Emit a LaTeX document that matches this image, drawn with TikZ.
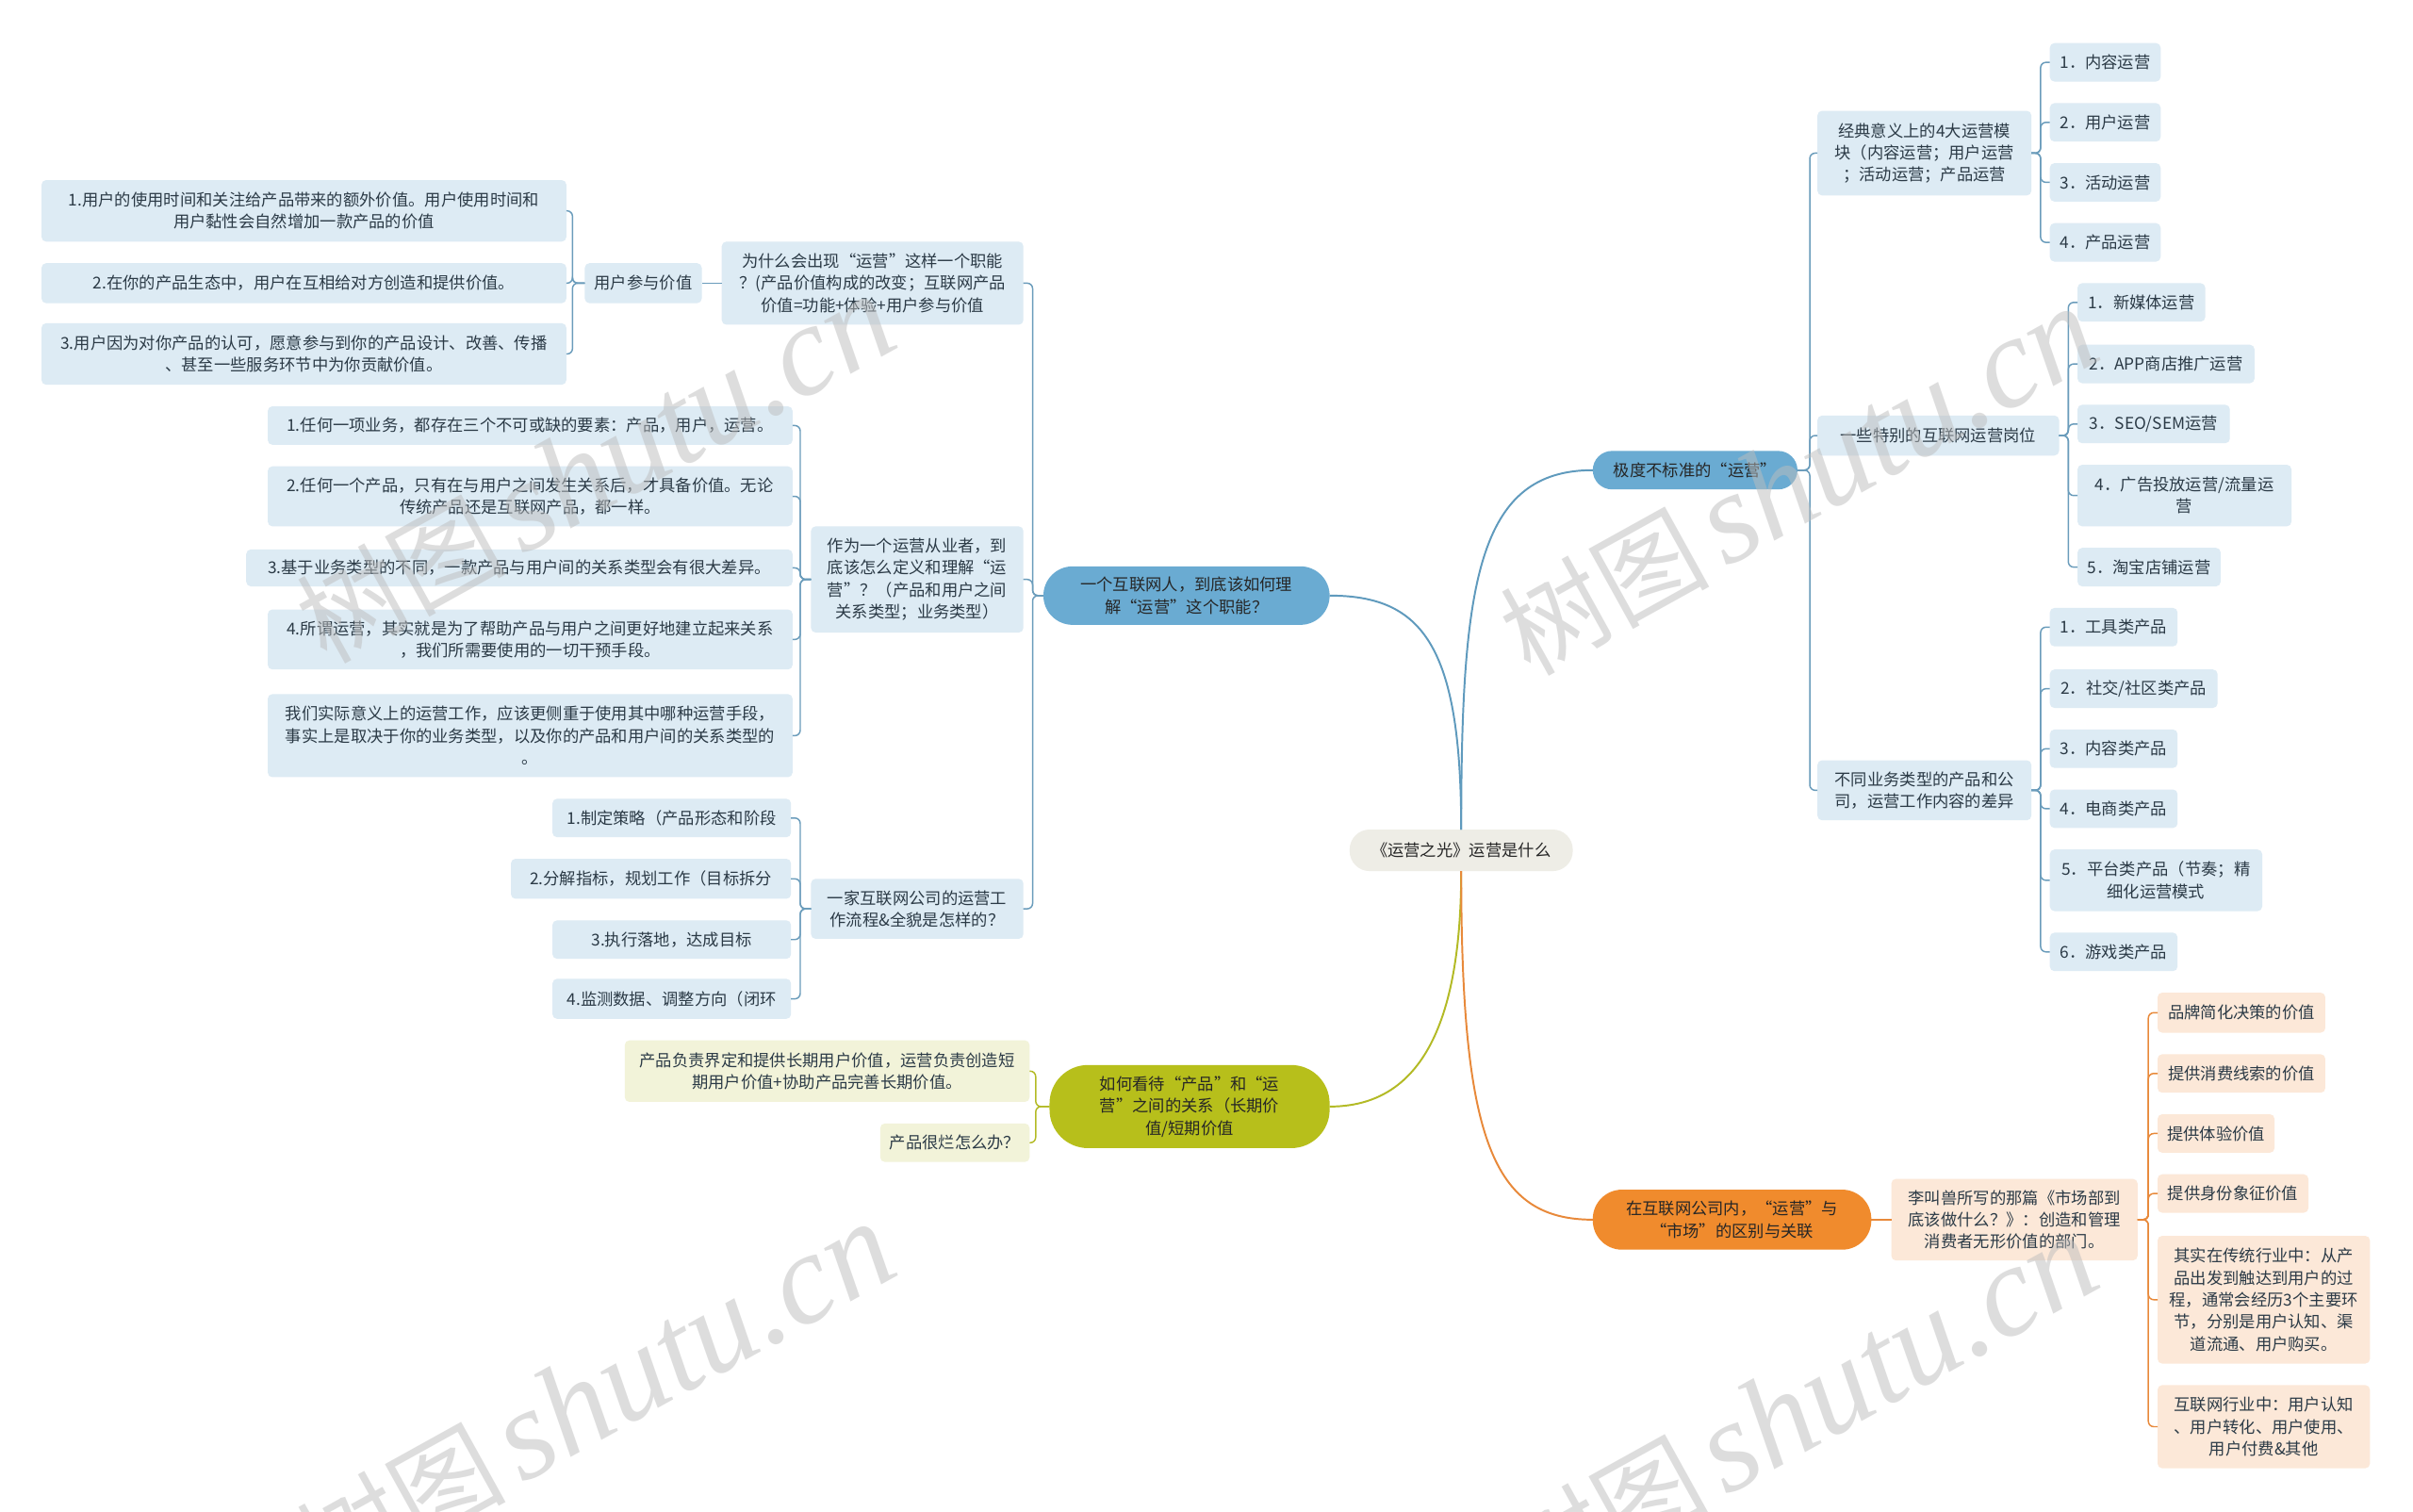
\documentclass[tikz,border=0pt]{standalone}
\usepackage{fontspec}
\newfontfamily\cjk{Noto Sans CJK SC}
\newfontfamily\wmlat{Liberation Serif}
\definecolor{mblue}{HTML}{6AABD2}
\definecolor{lblue}{HTML}{DDEBF4}
\definecolor{lineb}{HTML}{6A9CBB}
\definecolor{mgreen}{HTML}{B7BF1B}
\definecolor{lgreen}{HTML}{F2F3D9}
\definecolor{lineg}{HTML}{B3BA25}
\definecolor{morange}{HTML}{F08B2D}
\definecolor{lorange}{HTML}{FCE8D8}
\definecolor{lineo}{HTML}{E8893A}
\definecolor{rootc}{HTML}{EEEDE6}
\definecolor{txt}{HTML}{2B3A46}
\definecolor{wmgray}{HTML}{BDBDBD}
\tikzset{
  base/.style={inner sep=0pt, outer sep=0pt, align=center, font=\cjk\fontsize{10.6}{14.3}\selectfont, text=txt},
  lb/.style={base, fill=lblue, rounded corners=3pt},
  lg/.style={base, fill=lgreen, rounded corners=3pt},
  lo/.style={base, fill=lorange, rounded corners=3pt},
  rootst/.style={base, fill=rootc, rounded corners=13pt, text=black!85},
  pillb/.style={base, fill=mblue, text=black!85},
  pillg/.style={base, fill=mgreen, text=black!85},
  pillo/.style={base, fill=morange, text=black!85},
  cb/.style={draw=lineb, line width=0.9pt, rounded corners=3.5pt},
  cg/.style={draw=lineg, line width=0.9pt, rounded corners=3.5pt},
  co/.style={draw=lineo, line width=0.9pt, rounded corners=3.5pt},
  mainb/.style={draw=mblue!90!black, line width=1.2pt},
  maing/.style={draw=lineg, line width=1.2pt},
  maino/.style={draw=lineo, line width=1.2pt},
  wm/.style={text=wmgray, opacity=0.5, rotate=29, anchor=base west, inner sep=0pt}
}
\newcommand{\mmbox}[7]{\node[#6, minimum width={(#4-#2)*1pt}, minimum height={(#5-#3)*1pt}] (#1) at ({(#2+#4)/2},{(#3+#5)/2}) {#7};}
\newcommand{\wmtext}{{\cjk\fontsize{68}{68}\selectfont 树图}\hspace{10pt}{\wmlat\itshape\fontsize{84}{84}\selectfont shutu.cn}}
\begin{document}
\begin{tikzpicture}[x=1pt,y=-1pt]
\useasboundingbox[fill=white] (0,0) rectangle (1568,982);
% root and main branches
\mmbox{root}{877}{539}{1022}{566}{rootst}{《运营之光》运营是什么}
\mmbox{m1}{678}{368}{864}{406}{pillb,rounded corners=19pt}{一个互联网人，到底该如何理\\解“运营”这个职能？}
\mmbox{m2}{1035}{293}{1168}{318}{pillb,rounded corners=12.5pt}{极度不标准的“运营”}
\mmbox{m3}{682}{692}{864}{746}{pillg,rounded corners=25pt}{如何看待“产品”和“运\\营”之间的关系（长期价\\值/短期价值}
\mmbox{m4}{1035}{773}{1216}{812}{pillo,rounded corners=19pt}{在互联网公司内，“运营”与\\“市场”的区别与关联}
% branch 1
\mmbox{A}{469}{157}{665}{211}{lb}{为什么会出现“运营”这样一个职能\\？(产品价值构成的改变；互联网产品\\价值=功能+体验+用户参与价值}
\mmbox{P}{380}{171}{456}{197}{lb}{用户参与价值}
\mmbox{a1}{27}{117}{368}{157}{lb}{1.用户的使用时间和关注给产品带来的额外价值。用户使用时间和\\用户黏性会自然增加一款产品的价值}
\mmbox{a2}{27}{171}{368}{197}{lb}{2.在你的产品生态中，用户在互相给对方创造和提供价值。}
\mmbox{a3}{27}{210}{368}{250}{lb}{3.用户因为对你产品的认可，愿意参与到你的产品设计、改善、传播\\、甚至一些服务环节中为你贡献价值。}
\mmbox{B}{527}{342}{665}{411}{lb}{作为一个运营从业者，到\\底该怎么定义和理解“运\\营”？（产品和用户之间\\关系类型；业务类型）}
\mmbox{b1}{174}{264}{515}{289}{lb}{1.任何一项业务，都存在三个不可或缺的要素：产品，用户，运营。}
\mmbox{b2}{174}{303}{515}{342}{lb}{2.任何一个产品，只有在与用户之间发生关系后，才具备价值。无论\\传统产品还是互联网产品，都一样。}
\mmbox{b3}{160}{357}{515}{381}{lb}{3.基于业务类型的不同，一款产品与用户间的关系类型会有很大差异。}
\mmbox{b4}{174}{396}{515}{435}{lb}{4.所谓运营，其实就是为了帮助产品与用户之间更好地建立起来关系\\，我们所需要使用的一切干预手段。}
\mmbox{b5}{174}{451}{515}{505}{lb}{我们实际意义上的运营工作，应该更侧重于使用其中哪种运营手段，\\事实上是取决于你的业务类型，以及你的产品和用户间的关系类型的\\。}
\mmbox{C}{527}{571}{665}{610}{lb}{一家互联网公司的运营工\\作流程\&全貌是怎样的？}
\mmbox{c1}{359}{519}{514}{544}{lb}{1.制定策略（产品形态和阶段}
\mmbox{c2}{332}{558}{514}{584}{lb}{2.分解指标，规划工作（目标拆分}
\mmbox{c3}{359}{598}{514}{623}{lb}{3.执行落地，达成目标}
\mmbox{c4}{359}{636}{514}{662}{lb}{4.监测数据、调整方向（闭环}
% branch 3
\mmbox{h1}{406}{676}{669}{716}{lg}{产品负责界定和提供长期用户价值，运营负责创造短\\期用户价值+协助产品完善长期价值。}
\mmbox{h2}{572}{730}{669}{755}{lg}{产品很烂怎么办？}
% branch 2
\mmbox{D}{1181}{72}{1320}{127}{lb}{经典意义上的4大运营模\\块（内容运营；用户运营\\；活动运营；产品运营}
\mmbox{d1}{1332}{28}{1404}{53}{lb}{1．内容运营}
\mmbox{d2}{1332}{67}{1404}{92}{lb}{2．用户运营}
\mmbox{d3}{1332}{106}{1404}{131}{lb}{3．活动运营}
\mmbox{d4}{1332}{145}{1404}{170}{lb}{4．产品运营}
\mmbox{E}{1181}{270}{1338}{296}{lb}{一些特别的互联网运营岗位}
\mmbox{e1}{1350}{184}{1433}{209}{lb}{1．新媒体运营}
\mmbox{e2}{1350}{224}{1465}{249}{lb}{2．APP商店推广运营}
\mmbox{e3}{1350}{263}{1449}{288}{lb}{3．SEO/SEM运营}
\mmbox{e4}{1350}{302}{1489}{342}{lb}{4．广告投放运营/流量运\\营}
\mmbox{e5}{1350}{356}{1443}{381}{lb}{5．淘宝店铺运营}
\mmbox{F}{1181}{494}{1320}{533}{lb}{不同业务类型的产品和公\\司，运营工作内容的差异}
\mmbox{f1}{1332}{395}{1415}{420}{lb}{1．工具类产品}
\mmbox{f2}{1332}{435}{1441}{460}{lb}{2．社交/社区类产品}
\mmbox{f3}{1332}{474}{1415}{499}{lb}{3．内容类产品}
\mmbox{f4}{1332}{513}{1415}{538}{lb}{4．电商类产品}
\mmbox{f5}{1332}{552}{1470}{592}{lb}{5．平台类产品（节奏；精\\细化运营模式}
\mmbox{f6}{1332}{606}{1415}{631}{lb}{6．游戏类产品}
% branch 4
\mmbox{G}{1229}{766}{1389}{819}{lo}{李叫兽所写的那篇《市场部到\\底该做什么？》：创造和管理\\消费者无形价值的部门。}
\mmbox{g1}{1402}{645}{1511}{671}{lo}{品牌简化决策的价值}
\mmbox{g2}{1402}{685}{1511}{710}{lo}{提供消费线索的价值}
\mmbox{g3}{1402}{724}{1478}{749}{lo}{提供体验价值}
\mmbox{g4}{1402}{763}{1500}{788}{lo}{提供身份象征价值}
\mmbox{g5}{1402}{803}{1540}{886}{lo}{其实在传统行业中：从产\\品出发到触达到用户的过\\程，通常会经历3个主要环\\节，分别是用户认知、渠\\道流通、用户购买。}
\mmbox{g6}{1402}{900}{1540}{954}{lo}{互联网行业中：用户认知\\、用户转化、用户使用、\\用户付费\&其他}
% main curves
\draw[mainb] (root.north) .. controls +(0,-120) and +(60,0) .. (m1.east);
\draw[mainb] (root.north) .. controls +(0,-160) and +(-75,0) .. (m2.west);
\draw[maing] (root.south) .. controls +(0,115) and +(50,0) .. (m3.east);
\draw[maino] (root.south) .. controls +(0,175) and +(-65,0) .. (m4.west);
% branch 1 connectors
\foreach \c in {A,B,C} \draw[cb] (m1.west) -- ++(-7,0) |- (\c.east);
\draw[cb] (A.west) -- (P.east);
\foreach \c in {a1,a2,a3} \draw[cb] (P.west) -- ++(-8,0) |- (\c.east);
\foreach \c in {b1,b2,b3,b4,b5} \draw[cb] (B.west) -- ++(-7,0) |- (\c.east);
\foreach \c in {c1,c2,c3,c4} \draw[cb] (C.west) -- ++(-7,0) |- (\c.east);
% branch 3 connectors
\foreach \c in {h1,h2} \draw[cg] (m3.west) -- ++(-9,0) |- (\c.east);
% branch 2 connectors
\foreach \c in {D,E,F} \draw[cb] (m2.east) -- ++(8,0) |- (\c.west);
\foreach \c in {d1,d2,d3,d4} \draw[cb] (D.east) -- ++(6,0) |- (\c.west);
\foreach \c in {e1,e2,e3,e4,e5} \draw[cb] (E.east) -- ++(6,0) |- (\c.west);
\foreach \c in {f1,f2,f3,f4,f5,f6} \draw[cb] (F.east) -- ++(6,0) |- (\c.west);
% branch 4 connectors
\draw[co] (m4.east) -- (G.west);
\foreach \c in {g1,g2,g3,g4,g5,g6} \draw[co] (G.east) -- ++(7,0) |- (\c.west);
% watermarks
\node[wm] (w1) at (212,432) {\wmtext};
\node[wm] (w2) at (994,440) {\wmtext};
\node[wm] (w3) at (212,1035) {\wmtext};
\node[wm] (w4) at (994,1043) {\wmtext};
\end{tikzpicture}
\end{document}
